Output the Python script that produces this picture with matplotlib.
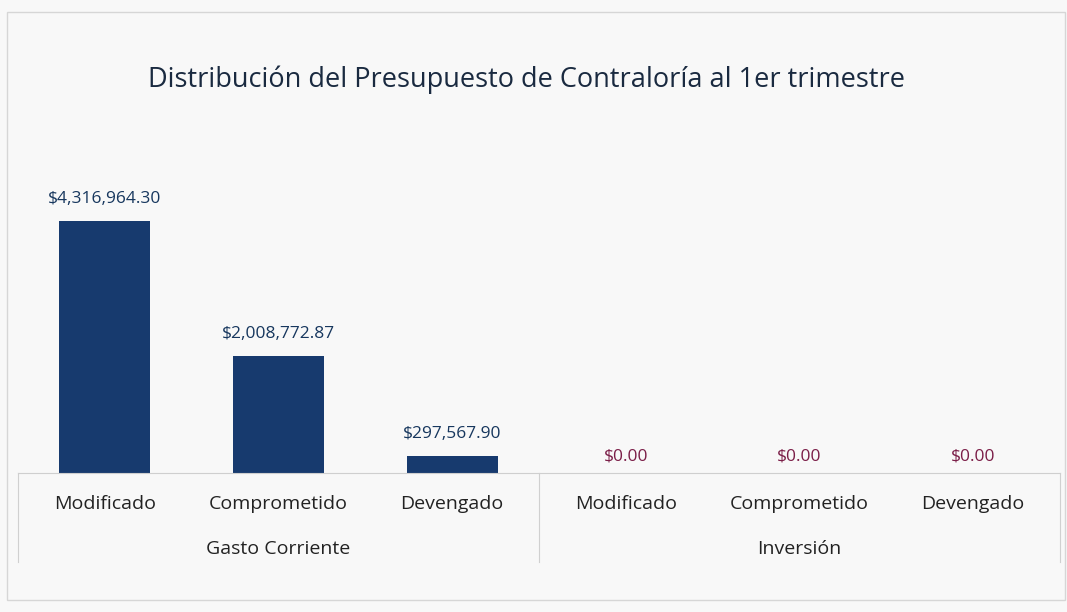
import matplotlib.pyplot as plt
from matplotlib.patches import Rectangle

# data
categories = ["Modificado", "Comprometido", "Devengado",
              "Modificado", "Comprometido", "Devengado"]
groups = ["Gasto Corriente", "Inversión"]
values = [4316964.30, 2008772.87, 297567.90, 0.0, 0.0, 0.0]

plt.rcParams['font.family'] = ['Open Sans', 'DejaVu Sans']

fig = plt.figure(figsize=(10.67, 6.12), dpi=100)
fig.patch.set_facecolor('#f8f8f8')

# outer frame of the chart
fig.patches.append(Rectangle((7/1067, 12/612), 1058/1067, 588/612,
                             transform=fig.transFigure, fill=False,
                             edgecolor='#d6d6d6', linewidth=1))

# axes: x from 18 to 1060 px, baseline at y=473 px, top at y=150 px
left, right = 18/1067, 1060/1067
bottom, top = (612-473)/612, (612-150)/612
ax = fig.add_axes([left, bottom, right-left, top-bottom])
ax.set_facecolor('none')

x = list(range(len(values)))
ax.bar(x, values, width=0.525, color='#173a6e')
ax.set_xlim(-0.5, len(values)-0.5)
ax.set_ylim(0, 4316964.30*323/252)

for i, v in enumerate(values):
    col = '#17375e' if v > 0 else '#7b1e48'
    off = 10 if v > 0 else 6
    ax.annotate("${:,.2f}".format(v), (i, v), xytext=(0, off),
                textcoords='offset points', ha='center', va='bottom',
                fontsize=12.5, color=col)

for s in ['left', 'right', 'top']:
    ax.spines[s].set_visible(False)
ax.spines['bottom'].set_color('#cfcfcf')
ax.set_yticks([])
ax.set_xticks(x)
ax.set_xticklabels(categories, fontsize=14, color='#222222')
ax.tick_params(axis='x', length=0, pad=16)

# group labels and separators
trans = ax.get_xaxis_transform()
for g, name in enumerate(groups):
    ax.text(g*3 + 1, -0.235, name, transform=trans, ha='center', va='center',
            fontsize=14, color='#222222')
for xs in [-0.5, 2.5, 5.5]:
    ax.plot([xs, xs], [0, -0.276], transform=trans, color='#d0d0d0',
            linewidth=0.8, clip_on=False)

fig.text(527/1067, 1 - 80/612, "Distribución del Presupuesto de Contraloría al 1er trimestre",
         ha='center', va='center', fontsize=19.5, color='#1a2a40')

plt.savefig('out.png', dpi=100, facecolor=fig.get_facecolor())
